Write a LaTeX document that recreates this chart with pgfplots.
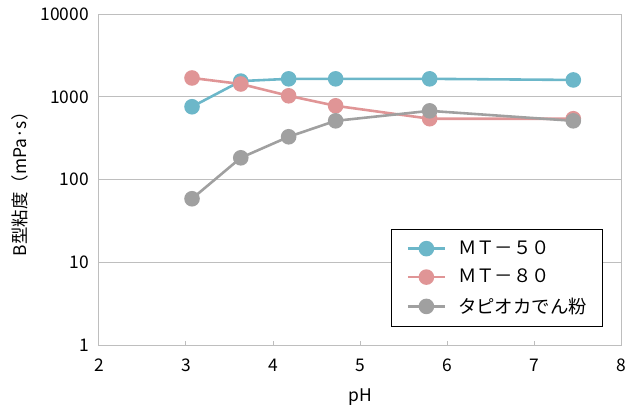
\documentclass[border=0pt]{standalone}
\usepackage{pgfplots}
\pgfplotsset{compat=1.18}
\usepackage{fontspec}
\setmainfont{Noto Sans CJK JP}
\definecolor{cblue}{HTML}{6CB7C9}
\definecolor{cpink}{HTML}{E09596}
\definecolor{cgray}{HTML}{A0A0A0}
\definecolor{axgray}{HTML}{BEBEBE}
\begin{document}
\fontsize{15}{18}\selectfont
\begin{tikzpicture}
\begin{axis}[
  scale only axis,
  width=523bp, height=332bp,
  xmin=2, xmax=8, ymin=1, ymax=10000,
  ymode=log,
  log basis y=10,
  xtick={2,3,4,5,6,7,8},
  ytick={1,10,100,1000,10000},
  yticklabels={1,10,100,1000,10000},
  /pgf/number format/assume math mode=true,
  ymajorgrids,
  grid style={axgray, line width=0.9pt},
  axis line style={axgray, line width=0.9pt},
  xtick style={axgray, line width=0.9pt},
  major tick length=5bp,
  ytick style={draw=none},
  minor ytick={},
  tick align=inside,
  xtick pos=bottom,
  ytick pos=left,
  ticklabel style={font=\fontsize{17.5}{20}\selectfont, text=black, inner sep=1bp},
  yticklabel style={xshift=-9bp},
  xticklabel style={yshift=-12bp},
  xlabel={pH},
  ylabel={B型粘度（mPa·s）},
  label style={font=\fontsize{17.5}{20}\selectfont},
  xlabel style={at={(axis description cs:0.5,-0.157)}, anchor=center},
  ylabel style={at={(axis description cs:-0.151,0.5)}, anchor=center},
  clip=false,
  legend style={at={(0.964,0.057)}, anchor=south east, draw=black, line width=0.8pt,
    font=\fontsize{18.5}{21}\selectfont, inner xsep=13bp, inner ysep=9bp, row sep=8.5bp, cells={anchor=west}},
  legend image code/.code={
    \path (-2bp,0cm) (47bp,0cm);
    \draw[#1, mark=none, line width=2.6pt] (0cm,0cm) -- (37bp,0cm);
    \draw[#1, only marks] plot coordinates {(18.5bp,0cm)};
  },
  every axis plot/.append style={line width=2.6pt, mark=*, mark size=6.5bp, mark options={solid}},
]
\addplot[cblue, mark options={fill=cblue, draw=cblue}] coordinates {
(3.07,760) (3.63,1550) (4.18,1650) (4.72,1650) (5.80,1650) (7.45,1600)};
\addlegendentry{ＭＴ－５０}
\addplot[cpink, mark options={fill=cpink, draw=cpink}] coordinates {
(3.07,1690) (3.63,1430) (4.18,1030) (4.72,780) (5.80,545) (7.45,545)};
\addlegendentry{ＭＴ－８０}
\addplot[cgray, mark options={fill=cgray, draw=cgray}] coordinates {
(3.07,59) (3.63,184) (4.18,330) (4.72,514) (5.80,678) (7.45,514)};
\addlegendentry{タピオカでん粉}
\end{axis}
\path ([xshift=-99bp,yshift=14bp]current axis.north west) ([xshift=5bp,yshift=-66bp]current axis.south east);
\end{tikzpicture}
\end{document}
